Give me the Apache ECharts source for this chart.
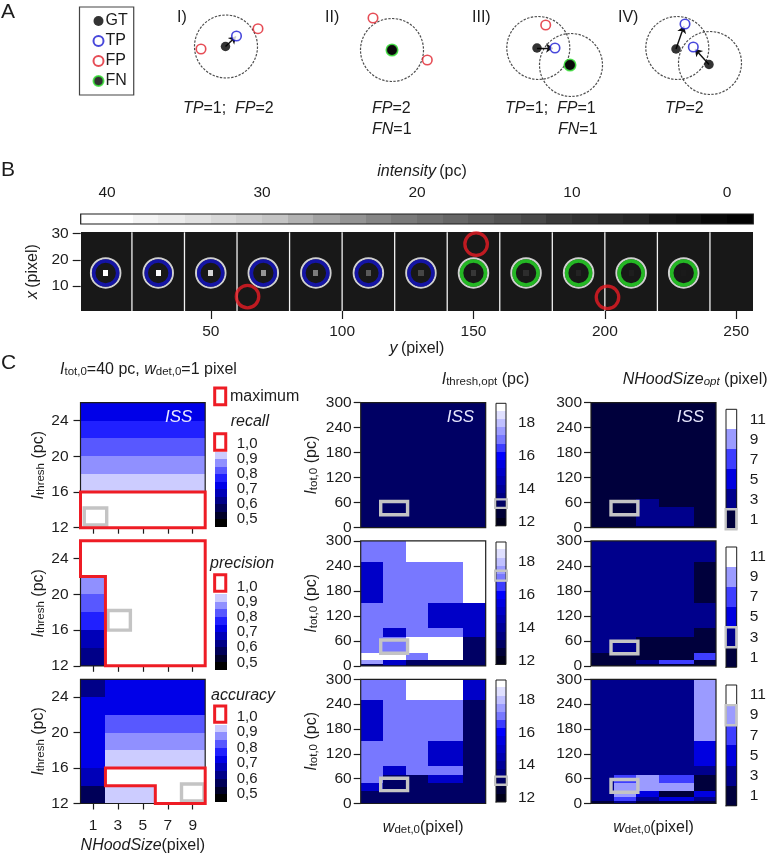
<!DOCTYPE html>
<html>
<head>
<meta charset="utf-8">
<style>html,body{margin:0;padding:0;background:#fff}#c{width:779px;height:856px}</style>
<script src="https://cdn.jsdelivr.net/npm/echarts@6/dist/echarts.min.js"></script>
</head>
<body>
<div id="c"></div>
<script>
/* ---------- panel A schematic ---------- */
const gtPoints = [[225.5,46.5],[392,50],[537,48],[570,65],[676,49],[709,64.5]];
const tpPoints = [[236.5,36],[555,48],[685,24],[693.3,47]];
const fpPoints = [[258,28.7],[201,49],[373,18],[427.3,60],[545.7,25]];
const fnPoints = [[392,50],[570,65]];
const searchCircles = [[226,46.5],[392,50],[538.3,48],[571,65],[677.3,48],[710,63]];
const matchArrows = [[[225.5,46.5],[236,36.5]],[[537,48],[553,48]],[[676,49],[684,26]],[[709,64.5],[695,49]]];

/* ---------- panel B ---------- */
const spotY = [10,30,50,70,90,110,130,150,170,190,210,230];
const spotIntensity = [40,36.7,33.3,30,26.7,23.3,20,16.7,13.3,10,6.7,3.3];
const spotGray = [255,252,215,150,125,90,70,55,45,35,30,26];
const tpCircles = [10,30,50,70,90,110,130];
const fnCircles = [150,170,190,210,230];
const fpCirclesB = [[64,6],[151,26],[201,5.7]];
const separators = [20,40,60,80,100,120,140,160,180,200,220,240];
const intensityEdges = [41.7,40,38.3,36.7,35,33.3,31.7,30,28.3,26.7,25,23.3,21.7,20,18.3,16.7,15,13.3,11.7,10,8.3,6.7,5,3.3,1.7,0,-1.7];
const intensityGray = [255,255,244,236,226,216,206,196,178,162,148,134,122,112,102,92,82,72,58,50,44,38,24,18,8,2];
const yTicksB = [10,20,30], xTicksB = [50,100,150,200,250], intensityTicks = [0,10,20,30,40];

/* ---------- panel C, left column ---------- */
const nhoodEdges = [0,2,4,6,8,10];
const threshEdges = [26,24,22,20,18,16,14,12];
const nhoodTicks = [1,3,5,7,9], threshTicks = [12,16,20,24];
const recallValues = [
 [.72,.72,.72,.72,.72],[.77,.77,.77,.77,.77],[.82,.82,.82,.82,.82],[.87,.87,.87,.87,.87],
 [.92,.92,.92,.92,.92],[1,1,1,1,1],[1,1,1,1,1]];
const precisionValues = [
 [1,1,1,1,1],[1,1,1,1,1],[.87,1,1,1,1],[.82,1,1,1,1],[.77,1,1,1,1],[.67,1,1,1,1],[.62,1,1,1,1]];
const accuracyValues = [
 [.62,.72,.72,.72,.72],[.72,.72,.72,.72,.72],[.72,.82,.82,.82,.82],[.72,.87,.87,.87,.87],
 [.72,.92,.92,.92,.92],[.67,1,1,1,1],[.57,.92,.92,1,1]];
const scoreEdges = [.45,.5,.55,.6,.65,.7,.75,.8,.85,.9,.95,1.05];
const scoreColors = ['#000000','#000028','#000058','#000088','#0000b8','#0000e8','#2020ff','#5858ff','#9090ff','#ccccff','#ffffff'];
const scoreTicks = [.5,.6,.7,.8,.9,1];
const recallOutline = [[0,16],[10,16],[10,12],[0,12],[0,16]];
const precisionOutline = [[0,26],[10,26],[10,12],[2,12],[2,22],[0,22],[0,26]];
const accuracyOutline = [[2,16],[10,16],[10,12],[6,12],[6,14],[2,14],[2,16]];
const recallBest = [.3,2.1,12.3,14.2], precisionBest = [2.2,4,16,18.2], accuracyBest = [8.1,9.9,12.3,14.2];

/* ---------- panel C, middle and right columns ---------- */
const widthEdges = [0,.18,.36,.54,.82,1];
const totEdges = [300,250,150,90,70,50,30,15,5,0];
const totTicks = [0,60,120,180,240,300];
const threshOpt1 = Array.from({length:9},()=>[13,13,13,13,13]);
const threshOpt2 = [
 [17,17,19,19,19],[15,17,17,17,19],[17,17,17,15,15],[17,15,17,17,15],[17,17,19,19,13],
 [17,17,19,19,13],[19,19,17,19,13],[17.5,15,13,13,13],[13,15,13,13,13]];
const threshOpt3 = [
 [17,17,19,19,15],[15,17,17,17,13],[17,17,17,15,13],[17,15,17,17,13],[17,13,13,15,13],
 [15,13,13,13,13],[13,13,13,13,13],[13,13,13,13,13],[13,13,13,13,13]];
const threshOptEdges = [11.75,12.25,12.75,13.25,13.75,14.25,14.75,15.25,15.75,16.25,16.75,17.25,17.75,18.25,18.75,19.2];
const threshOptColors = ['#00001a','#000038','#000064','#000080','#000098','#0000b0','#0000c8','#0000e0','#0000ff','#3c3cff','#7878ff','#9c9cff','#c0c0ff','#e0e0ff','#ffffff'];
const threshOptTicks = [12,14,16,18], threshOptMinor = [13,15,17,19];
const nhoodOpt1 = [
 [1,1,1,1,1],[1,1,1,1,1],[1,1,1,1,1],[1,1,1,1,1],[1,1,3,1,1],[1,1,3,3,1],[1,1,3,3,1],[1,1,3,3,1],[1,1,1,1,1]];
const nhoodOpt2 = [
 [3,3,3,3,3],[3,3,3,3,1],[3,3,3,3,3],[3,3,3,3,1],[3,3,1,1,1],[3,3,1,1,1],[1,1,1,1,7],[1,1,3,7,1],[1,1,1,1,1]];
const nhoodOpt3 = [
 [3,3,3,3,9],[3,3,3,3,9],[3,3,3,3,5],[3,3,3,3,3],[3,7,9,7,1],[3,9,9,9,1],[3,9,5,1,5],[3,7,3,5,3],[1,3,1,1,1]];
const nhoodOptEdges = [0,2,4,6,8,10,12];
const nhoodOptColors = ['#00003c','#00008c','#0000e0','#3e3eff','#9b9bff','#ffffff'];
const nhoodOptTicks = [1,3,5,7,9,11];
const optBestThresh = [[31,63,.16,.375],[30,62,.16,.375],[31,61,.16,.375]];
const optBestNhood = [[31,63,.16,.375],[29,59,.16,.375],[27,58,.16,.375]];
const threshBarMark = [[12.84,13.36],[16.85,17.45],[12.8,13.3]];
const nhoodBarMark = [[0,2],[2,4],[8,10]];

/* ---------- helpers ---------- */
const FONT = '"Liberation Sans", Arial, sans-serif';
const INK = '#1c1c1c', RED = '#ee1c25', GRAY = '#c4c4c4';
const grids = [], xAxes = [], yAxes = [], series = [];
const base = {silent:true, animation:false};
const labelStyle = {color:INK, fontFamily:FONT, fontSize:15.5};
const subRich = {
  n:{fontFamily:FONT,fontSize:16,color:INK},
  i:{fontFamily:FONT,fontSize:16,fontStyle:'italic',color:INK},
  s:{fontFamily:FONT,fontSize:11.5,color:INK,verticalAlign:'bottom',lineHeight:12,padding:[5,0,0,0]},
  si:{fontFamily:FONT,fontSize:11.5,fontStyle:'italic',color:INK,verticalAlign:'bottom',lineHeight:12,padding:[5,0,0,0]}
};
function addGrid(left, top, width, height, xa, ya){
  const gridIndex = grids.length;
  grids.push({left, top, width, height, show:false, containLabel:false});
  xAxes.push(Object.assign({type:'value', gridIndex, splitLine:{show:false}, axisLine:{show:false}, axisTick:{show:false}, axisLabel:{show:false}}, xa));
  yAxes.push(Object.assign({type:'value', gridIndex, splitLine:{show:false}, axisLine:{show:false}, axisTick:{show:false}, axisLabel:{show:false}}, ya));
  return {x:xAxes.length-1, y:yAxes.length-1};
}
function ticks(values, length, label, extra){
  return Object.assign({
    axisTick:{show:true, customValues:values, length, lineStyle:{color:INK,width:1.2}},
    axisLabel: label ? Object.assign({show:true, customValues:values}, labelStyle, label) : {show:false}
  }, extra||{});
}
function colorOf(edges, colors, v){
  for (let i=0;i<colors.length;i++){
    const lo=Math.min(edges[i],edges[i+1]), hi=Math.max(edges[i],edges[i+1]);
    if (v>=lo && v<hi) return colors[i];
  }
  return colors[colors.length-1];
}
function cellSeries(ax, data, colorFn, z){
  series.push(Object.assign({}, base, {
    type:'custom', xAxisIndex:ax.x, yAxisIndex:ax.y, z:z||2, data,
    encode:{x:[0,1], y:[2,3]},
    renderItem(params, api){
      const a = api.coord([api.value(0), api.value(3)]);
      const b = api.coord([api.value(1), api.value(2)]);
      const x = Math.round(a[0]), y = Math.round(a[1]);
      return {type:'rect', shape:{x, y, width:Math.round(b[0])-x, height:Math.round(b[1])-y},
              style:{fill:colorFn(api.value(4))}};
    }
  }));
}
function matrixData(xEdges, yEdges, rows){
  const out = [];
  rows.forEach((row,r)=>row.forEach((v,c)=>out.push([xEdges[c],xEdges[c+1],yEdges[r+1],yEdges[r],v])));
  return out;
}
function pathSeries(ax, pts, color, width, z, extra){
  series.push(Object.assign({}, base, {
    type:'line', xAxisIndex:ax.x, yAxisIndex:ax.y, z:z||5, data:pts, symbol:'none', clip:false,
    lineStyle:{color, width, join:'miter', cap:'square'}
  }, extra||{}));
}
function box(x0,x1,y0,y1){ return [[x0,y0],[x1,y0],[x1,y1],[x0,y1],[x0,y0]]; }
function colorbar(ax, xSpan, edges, colors){
  const data = colors.map((c,i)=>[xSpan[0],xSpan[1],Math.min(edges[i],edges[i+1]),Math.max(edges[i],edges[i+1]),i]);
  cellSeries(ax, data, i=>colors[i]);
}

/* ---------- panel A ---------- */
const axA = addGrid(0,0,779,150,{min:0,max:779,show:false},{min:0,max:150,inverse:true,show:false});
series.push(Object.assign({}, base, {type:'scatter',name:'radius',xAxisIndex:axA.x,yAxisIndex:axA.y,data:searchCircles,symbolSize:63,z:2,
  itemStyle:{color:'rgba(0,0,0,0)',borderColor:'#222',borderWidth:1.2,borderType:[2.4,1.4]}}));
series.push(Object.assign({}, base, {type:'lines',coordinateSystem:'cartesian2d',xAxisIndex:axA.x,yAxisIndex:axA.y,z:3,
  symbol:['none','arrow'],symbolSize:7,lineStyle:{color:'#111',width:1.4,opacity:1,curveness:0},
  data:matchArrows.map(c=>({coords:c}))}));
[['FN',fnPoints,'#2fe02f',11.5],['GT',gtPoints,'#000',9.5],['TP',tpPoints,'#1a1ad2',9.5],['FP',fpPoints,'#e0202c',9.5]].forEach(([name,data,col,size])=>{
  series.push(Object.assign({}, base, {type:'scatter',name,xAxisIndex:axA.x,yAxisIndex:axA.y,data,symbolSize:size,z:name==='FN'?3:4,
    itemStyle: name==='GT' ? {color:col} : {color:name==='FN'?'#000':'#fff',borderColor:col,borderWidth:1.6}}));
});

/* ---------- panel B ---------- */
const axBar = addGrid(80.7,214,672.6,10,
  ticks(intensityTicks,8,{margin:13},{min:-1.7,max:41.7,inverse:true,position:'top',
    name:'{i|intensity} {n|(pc)}',nameLocation:'middle',nameGap:34,nameTextStyle:{rich:subRich,padding:[0,0,0,10]}}),
  {min:0,max:1,show:false});
const barData = intensityGray.map((g,i)=>[intensityEdges[i+1],intensityEdges[i],0,1,g]);
cellSeries(axBar, barData, g=>`rgb(${g},${g},${g})`);
pathSeries(axBar, box(41.7,-1.7,0,1), INK, 1.2);

const axImg = addGrid(80.7,232.3,672.6,78.7,
  ticks(xTicksB,8,{margin:13},{min:.5,max:256.5,axisLine:{show:false},
    name:'{i|y} {n|(pixel)}',nameLocation:'middle',nameGap:26,nameTextStyle:{rich:subRich}}),
  ticks(yTicksB,8,{margin:12},{min:.5,max:30.5,
    name:'{i|x} {n|(pixel)}',nameLocation:'middle',nameGap:39,nameTextStyle:{rich:subRich}}));
cellSeries(axImg, [[.5,256.5,.5,30.5,0]], ()=>'#181818', 1);
cellSeries(axImg, spotY.map((y,i)=>[y-1,y+1,14,16,spotGray[i]]), g=>`rgb(${g},${g},${g})`, 2);
separators.forEach(x=>pathSeries(axImg, [[x,.5],[x,30.5]], '#f2f2f2', 1.3, 3, {lineStyle:{color:'#f2f2f2',width:1.3}}));
function ringSeries(ax, data, size, color, width, z){
  series.push(Object.assign({}, base, {type:'scatter',xAxisIndex:ax.x,yAxisIndex:ax.y,data,symbolSize:size,z,
    itemStyle:{color:'rgba(0,0,0,0)',borderColor:color,borderWidth:width}}));
}
const ringCentres = tpCircles.concat(fnCircles).map(y=>[y,15]);
ringSeries(axImg, ringCentres, 29.5, '#fff', 2, 4);
ringSeries(axImg, tpCircles.map(y=>[y,15]), 24, '#1414c8', 3.6, 5);
ringSeries(axImg, fnCircles.map(y=>[y,15]), 24, '#28e028', 3.6, 5);
ringSeries(axImg, fpCirclesB, 22.5, '#ea1c24', 3.3, 6);

/* ---------- panel C ---------- */
const panelTops = [[402.7,125],[540.8,125],[679.3,124.2]];
const leftSets = [
  [recallValues,recallOutline,recallBest],
  [precisionValues,precisionOutline,precisionBest],
  [accuracyValues,accuracyOutline,accuracyBest]];
const scoreBars = [[436.7,90],[579,91],[709,93]];
const scoreMark = [[.96,1.069],[.97,1.078],[.965,1.07]];
const threshName = '{i|I}{s|thresh}{n| (pc)}';
const totName = '{i|I}{s|tot,0}{n| (pc)}';
const commaFmt = v=>v.toFixed(1).replace('.',',');

leftSets.forEach(([vals,outline,best],p)=>{
  const [top,h] = panelTops[p];
  const ax = addGrid(80.5,top,124.7,h,
    ticks(nhoodTicks,6,p===2?{margin:14}:null,Object.assign({min:0,max:10},p===2?{
      name:'{i|NHoodSize}{n|(pixel)}',nameLocation:'middle',nameGap:34,nameTextStyle:{rich:subRich}}:{})),
    ticks(threshTicks,7,{margin:12},{min:12,max:26,name:threshName,nameLocation:'middle',nameGap:34,nameTextStyle:{rich:subRich}}));
  cellSeries(ax, matrixData(nhoodEdges,threshEdges,vals), v=>colorOf(scoreEdges,scoreColors,v));
  pathSeries(ax, box(0,10,12,26), INK, 1.2, 3);
  pathSeries(ax, box(best[0],best[1],best[2],best[3]), GRAY, 3.4, 4);
  pathSeries(ax, outline, RED, 3, 5);
  const [bt,bh] = scoreBars[p];
  const bar = addGrid(215,bt,11.7,bh,{min:0,max:1,show:false},
    ticks(scoreTicks,4.5,{margin:10,formatter:commaFmt,fontSize:15},{min:.45,max:1.05,position:'right'}));
  colorbar(bar,[0,1],scoreEdges,scoreColors);
  pathSeries(bar, box(-.03,.92,scoreMark[p][0],scoreMark[p][1]), RED, 3, 5);
});

const midSets = [threshOpt1,threshOpt2,threshOpt3];
const rightSets = [nhoodOpt1,nhoodOpt2,nhoodOpt3];
const threshBars = [[403.3,122.5],[542,122.5],[680,122]];
const nhoodBars = [[409.3,120],[547,120.3],[685,120.8]];
const widthName = '{i|w}{s|det,0}{n|(pixel)}';
function optPanel(left, vals, ax2col, yTitle, p, best){
  const [top,h] = panelTops[p];
  const ax = addGrid(left,top,125,h,
    Object.assign({min:0,max:1,axisTick:{show:false}},p===2?{name:widthName,nameLocation:'middle',nameGap:16,nameTextStyle:{rich:subRich}}:{}),
    ticks(totTicks,7,{margin:9},Object.assign({min:0,max:300},yTitle?{name:totName,nameLocation:'middle',nameGap:41,nameTextStyle:{rich:subRich}}:{})));
  cellSeries(ax, matrixData(widthEdges,totEdges,vals), ax2col);
  pathSeries(ax, box(0,1,0,300), INK, 1.2, 3);
  pathSeries(ax, box(best[2],best[3],best[0],best[1]), GRAY, 3.4, 5);
}
midSets.forEach((vals,p)=>{
  optPanel(360.7,vals,v=>colorOf(threshOptEdges,threshOptColors,v),true,p,optBestThresh[p]);
  const [bt,bh] = threshBars[p];
  const bar = addGrid(496,bt,10,bh,{min:0,max:1,show:false},
    ticks(threshOptTicks,6,{margin:12},{min:11.75,max:19.2,position:'right'}));
  colorbar(bar,[0,1],threshOptEdges,threshOptColors);
  const minor = addGrid(496,bt,10,bh,{min:0,max:1,show:false},
    ticks(threshOptMinor,3.5,null,{min:11.75,max:19.2,position:'right'}));
  pathSeries(bar, box(0,1,11.75,19.2), INK, 1, 3);
  pathSeries(bar, box(-.1,1.1,threshBarMark[p][0],threshBarMark[p][1]), GRAY, 2.4, 5);
});
rightSets.forEach((vals,p)=>{
  optPanel(591,vals,v=>colorOf(nhoodOptEdges,nhoodOptColors,v),false,p,optBestNhood[p]);
  const [bt,bh] = nhoodBars[p];
  const bar = addGrid(726,bt,10.7,bh,{min:0,max:1,show:false},
    ticks(nhoodOptTicks,5.5,{margin:13},{min:0,max:12,position:'right'}));
  colorbar(bar,[0,1],nhoodOptEdges,nhoodOptColors);
  pathSeries(bar, box(0,1,0,12), INK, 1, 3);
  pathSeries(bar, box(-.03,.97,nhoodBarMark[p][0],nhoodBarMark[p][1]), GRAY, 2.4, 5);
});

/* ---------- free text ---------- */
const countRich = {
  k:{fontFamily:FONT,fontSize:16,color:'#222'},
  b:{fontFamily:FONT,fontSize:16,fontStyle:'italic',color:'#1a1ad2'},
  r:{fontFamily:FONT,fontSize:16,fontStyle:'italic',color:'#ec1c24'},
  g:{fontFamily:FONT,fontSize:16,fontStyle:'italic',color:'#28e028'}
};
function T(x,y,text,opts){
  return {type:'text',x,y,z:50,silent:true,style:Object.assign({text,font:`16px ${FONT}`,fill:INK,verticalAlign:'middle',align:'left'},opts||{})};
}
const graphic = [
  T(1,12,'A',{font:`21px ${FONT}`}), T(1,170,'B',{font:`21px ${FONT}`}), T(1,363,'C',{font:`21px ${FONT}`}),
  T(177,18,'I)'),T(325,18,'II)'),T(472,18,'III)'),T(618,18,'IV)'),
  T(183,109,'{b|TP}{k|=1;  }{r|FP}{k|=2}',{rich:countRich}),
  T(372,109,'{r|FP}{k|=2}',{rich:countRich}),
  T(372,130,'{g|FN}{k|=1}',{rich:countRich}),
  T(505,109,'{b|TP}{k|=1;  }{r|FP}{k|=1}',{rich:countRich}),
  T(558,130,'{g|FN}{k|=1}',{rich:countRich}),
  T(665,109,'{b|TP}{k|=2}',{rich:countRich}),
  T(60,370,'{i|I}{s|tot,0}{n|=40 pc, }{i|w}{s|det,0}{n|=1 pixel}',{rich:subRich}),
  T(230,397,'maximum'),
  T(230.7,421.7,'recall',{font:`italic 16px ${FONT}`}),
  T(210,563.3,'precision',{font:`italic 16px ${FONT}`}),
  T(211,695.3,'accuracy',{font:`italic 16px ${FONT}`}),
  T(441.7,380,'{i|I}{s|thresh,opt}{n| (pc)}',{rich:subRich}),
  T(622.7,380,'{i|NHoodSize}{si|opt}{n| (pixel)}',{rich:subRich}),
  T(165,417,'ISS',{font:`italic 17px ${FONT}`,fill:'#e8e8ff'}),
  T(446.7,417,'ISS',{font:`italic 17px ${FONT}`,fill:'#e8e8ff'}),
  T(676.7,417,'ISS',{font:`italic 17px ${FONT}`,fill:'#e8e8ff'}),
  {type:'rect',z:50,silent:true,shape:{x:214.7,y:388,width:11,height:16.8},style:{fill:'#fff',stroke:RED,lineWidth:3}}
];

const chart = echarts.init(document.getElementById('c'),null,{renderer:'canvas'});
chart.setOption({
  animation:false,
  backgroundColor:'#fff',
  grid:grids, xAxis:xAxes, yAxis:yAxes, series, graphic,
  tooltip:{show:false},
  legend:{data:['GT','TP','FP','FN'],orient:'vertical',left:79.5,top:7,itemWidth:10,itemHeight:10,itemGap:4,
    padding:[6,6,6,13],borderColor:'#444',borderWidth:1.2,selectedMode:false,
    textStyle:{fontFamily:FONT,fontSize:16,color:INK,padding:[0,0,0,-3]}}
});
</script>
</body>
</html>
